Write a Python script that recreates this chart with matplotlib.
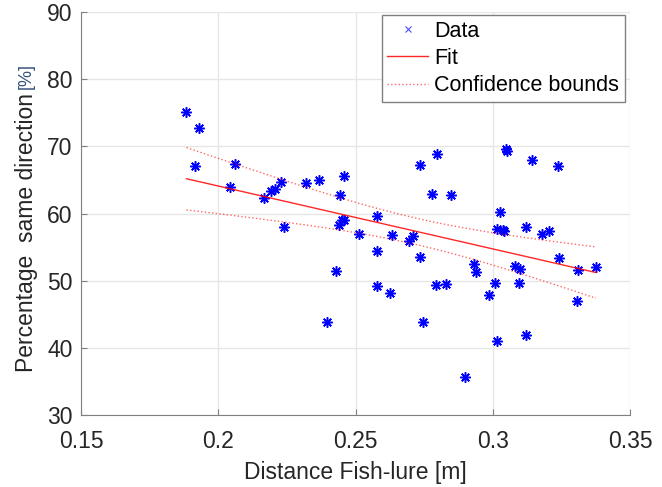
import numpy as np
import matplotlib.pyplot as plt
from matplotlib.lines import Line2D

# distancia pez-señuelo (m) y porcentaje en la misma dirección (%)
dist = [0.1884, 0.1931, 0.1915, 0.2062, 0.2041, 0.2168, 0.2191, 0.2208, 0.2227, 0.2239,
        0.2318, 0.2368, 0.2394, 0.2429, 0.2440, 0.2443, 0.2450, 0.2456, 0.2457, 0.2512,
        0.2578, 0.2578, 0.2578, 0.2626, 0.2632, 0.2693, 0.2708, 0.2733, 0.2735, 0.2746,
        0.2778, 0.2792, 0.2795, 0.2829, 0.2846, 0.2899, 0.2932, 0.2938, 0.2987, 0.3009,
        0.3015, 0.3015, 0.3024, 0.3038, 0.3041, 0.3046, 0.3051, 0.3082, 0.3094, 0.3100,
        0.3119, 0.3120, 0.3142, 0.3179, 0.3206, 0.3237, 0.3240, 0.3305, 0.3308, 0.3375]
pct = [75.16, 72.68, 67.07, 67.32, 63.90, 62.26, 63.40, 63.65, 64.74, 57.99,
       64.49, 65.04, 43.85, 51.49, 58.24, 62.80, 59.08, 65.58, 58.98, 56.95,
       59.58, 54.47, 49.16, 48.16, 56.80, 55.90, 56.65, 67.22, 53.52, 43.75,
       62.95, 49.30, 68.91, 49.50, 62.70, 35.56, 52.43, 51.24, 47.87, 49.70,
       41.02, 57.74, 60.27, 57.59, 57.40, 69.65, 69.25, 52.13, 49.70, 51.74,
       57.94, 41.86, 68.01, 56.95, 57.40, 67.07, 53.37, 46.97, 51.64, 51.99]

x = np.array(dist)
y = np.array(pct)
n = len(x)

# --- ajuste lineal y bandas de confianza (95%) ---
p = np.polyfit(x, y, 1)
xf = np.linspace(x.min(), x.max(), 100)
yf = np.polyval(p, xf)
res = y - np.polyval(p, x)
s = np.sqrt(np.sum(res**2) / (n - 2))
Sxx = np.sum((x - x.mean())**2)
t95 = 2.0017  # t de Student, 58 g.l.
half = t95 * s * np.sqrt(1.0/n + (xf - x.mean())**2 / Sxx)

txt = '#262626'
plt.rcParams['font.family'] = ['Liberation Sans', 'DejaVu Sans']
fig = plt.figure(figsize=(6.62, 4.87), dpi=100)
ax = fig.add_axes([0.1224, 0.1485, 0.8296, 0.8262])

ax.plot(x, y, linestyle='none', marker=(8, 2, 0), color='blue',
        markersize=7.5, markeredgewidth=1.1)
ax.plot(xf, yf, color='red', linewidth=1.0, alpha=0.85)
ax.plot(xf, yf + half, color='red', linewidth=1.0, linestyle=':', alpha=0.6)
ax.plot(xf, yf - half, color='red', linewidth=1.0, linestyle=':', alpha=0.6)

ax.set_xlim(0.15, 0.35)
ax.set_ylim(30, 90)
ax.set_xticks([0.15, 0.2, 0.25, 0.3, 0.35])
ax.set_xticklabels(['0.15', '0.2', '0.25', '0.3', '0.35'])
ax.set_yticks(range(30, 91, 10))
ax.grid(True, color='#e6e6e6', linewidth=1.0)
ax.set_axisbelow(True)
for sp in ['top', 'right']:
    ax.spines[sp].set_visible(False)
for sp in ['left', 'bottom']:
    ax.spines[sp].set_color('#808080')
ax.tick_params(direction='in', length=4, color='#808080', labelsize=16.5,
               labelcolor=txt)
ax.tick_params(axis='x', pad=11)
ax.tick_params(axis='y', pad=6)

ax.set_xlabel('Distance Fish-lure [m]', fontsize=16.5, color=txt, labelpad=6)

# etiqueta Y en dos partes: texto normal + unidades más pequeñas
ylab = fig.text(0.040, 1 - 372/487, 'Percentage  same direction', rotation=90,
                fontsize=16.5, color=txt, ha='center', va='bottom')
fig.canvas.draw()
bb = ylab.get_window_extent().transformed(fig.transFigure.inverted())
fig.text(0.040, bb.y1 + 0.008, '[%]', rotation=90, fontsize=13,
         color='#34507a', ha='center', va='bottom')

handles = [Line2D([], [], linestyle='none', marker='x', color='blue', markersize=5,
                  markeredgewidth=0.8, alpha=0.7),
           Line2D([], [], color='red', linewidth=1.0, alpha=0.85),
           Line2D([], [], color='red', linewidth=1.0, linestyle=':', alpha=0.6)]
leg = ax.legend(handles, ['Data', 'Fit', 'Confidence bounds'], loc='upper right',
                bbox_to_anchor=(0.99, 0.993), fontsize=15.5, fancybox=False,
                edgecolor='#808080', framealpha=1, borderpad=0.25,
                labelspacing=0.3, handlelength=1.9, handletextpad=0.3,
                borderaxespad=0.0)
leg.get_frame().set_linewidth(1.0)
for t in leg.get_texts():
    t.set_color('black')

fig.savefig('out.png', dpi=100)
